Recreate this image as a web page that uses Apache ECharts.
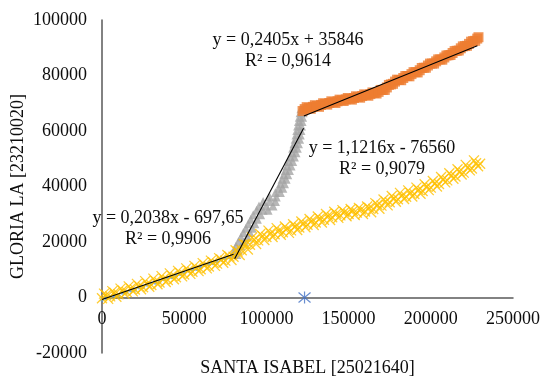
<!DOCTYPE html>
<html>
<head>
<meta charset="utf-8">
<script src="https://cdn.jsdelivr.net/npm/echarts@6/dist/echarts.min.js"></script>
<style>html,body{margin:0;padding:0;background:#fff;}#c{width:542px;height:377px;}</style>
</head>
<body>
<div id="c"></div>
<script>
// ---- data ----
const xTicks = [0, 50000, 100000, 150000, 200000, 250000];
const yTicks = [-20000, 0, 20000, 40000, 60000, 80000, 100000];

const bluePts = [[0,-800],[2500,-300],[5000,100],[7500,600],[10000,800],[12500,1700],[15000,2100],[17500,2500],[20000,2800],[22500,3600],[25000,3800],[27500,4600],[30000,5000],[32500,5300],[35000,5700],[37500,6600],[40000,7000],[42500,7300],[45000,7800],[47500,8500],[50000,8800],[52500,9700],[55000,10000],[57500,10300],[60000,10800],[62500,11700],[65000,12000],[67500,12300],[70000,12900],[72500,13700],[75000,14000],[77500,14400],[80000,15200]];

const greyPts = [[80000,15500],[82000,15500],[80500,17000],[83000,17000],[81500,18600],[84500,18600],[83000,20200],[86500,20200],[84500,21800],[88500,21800],[86000,23400],[90000,23400],[87500,25000],[91500,25000],[89000,26600],[93000,26600],[90500,28200],[94500,28200],[92000,29800],[96500,29800],[94000,31400],[98000,31400],[101000,31400],[95500,33000],[100000,33000],[104000,33000],[98000,34600],[102000,34600],[105500,34600],[102000,36200],[106000,36200],[105500,37800],[108500,37800],[107500,39400],[110000,39400],[108500,41000],[111000,41000],[109500,42600],[112000,42600],[110500,44200],[113000,44200],[111500,45800],[114000,45800],[112500,47400],[115000,47400],[113500,49000],[116000,49000],[114500,50600],[117000,50600],[115500,52200],[118000,52200],[116000,53800],[118800,53800],[116800,55400],[119500,55400],[117500,57000],[120200,57000],[118000,58600],[120600,58600],[118500,60200],[121000,60200],[119000,61800],[121300,61800],[119500,63400],[121700,63400],[120000,65000],[122000,65000],[120500,66600],[122300,66600],[121000,68000],[123000,68000]];

const orangePts = [[122000,67200],[124500,68600],[127000,68000],[129500,69300],[132000,68700],[134500,70000],[137000,69500],[139500,70700],[142000,70100],[144500,71300],[147000,70800],[149500,71900],[152000,71300],[154500,72500],[157000,72000],[159500,73200],[162000,72700],[164500,73900],[167000,73500],[169500,74800],[172000,74800],[174500,76600],[177000,77000],[179500,78500],[182000,78300],[184500,79800],[187000,79700],[189500,81200],[192000,81100],[194500,82700],[197000,82800],[199500,84300],[202000,84300],[204500,85800],[207000,85700],[209500,87200],[212000,87400],[214500,88800],[217000,89000],[219500,90500],[222000,90700],[224500,92200],[227000,92500],[229000,93800]];

const orangePts2 = [[123250,67900],[125750,68300],[128250,68700],[130750,69000],[133250,69400],[135750,69800],[138250,70100],[140750,70400],[143250,70700],[145750,71100],[148250,71400],[150750,71600],[153250,71900],[155750,72300],[158250,72600],[160750,73000],[163250,73300],[165750,73700],[168250,74100],[170750,74800],[173250,75700],[175750,76800],[178250,77800],[180750,78400],[183250,79100],[185750,79800],[188250,80500],[190750,81200],[193250,81900],[195750,82800],[198250,83600],[200750,84300],[203250,85100],[205750,85800],[208250,86500],[210750,87300],[213250,88100],[215750,88900],[218250,89800],[220750,90600],[223250,91400],[225750,92400],[228250,93300]];

const yellowPts = [[0,-300],[2500,900],[5000,400],[7500,1700],[10000,1200],[12500,2500],[15000,2000],[17500,3300],[20000,2900],[22500,4100],[25000,3700],[27500,5000],[30000,4500],[32500,5900],[35000,5400],[37500,6800],[40000,6300],[42500,7800],[45000,7300],[47500,8800],[50000,8300],[52500,9700],[55000,9300],[57500,10700],[60000,10200],[62500,11700],[65000,11200],[67500,12700],[70000,12200],[72500,13700],[75000,13300],[77500,14800],[80000,14700],[82500,16600],[85000,17000],[87500,19000],[90000,19000],[92500,20800],[95000,20600],[97500,22200],[100000,21800],[102500,23200],[105000,22800],[107500,24100],[110000,23500],[112500,24800],[115000,24200],[117500,25700],[120000,25200],[122500,26700],[125000,26200],[127500,27600],[130000,27000],[132500,28500],[135000,28000],[137500,29400],[140000,28900],[142500,30200],[145000,29600],[147500,30800],[150000,30100],[152500,31200],[155000,30600],[157500,31700],[160000,31000],[162500,32300],[165000,31900],[167500,33400],[170000,33100],[172500,34600],[175000,34300],[177500,35800],[180000,35400],[182500,36800],[185000,36300],[187500,37700],[190000,37300],[192500,38800],[195000,38400],[197500,40000],[200000,39600],[202500,41200],[205000,40900],[207500,42600],[210000,42200],[212500,44000],[215000,43600],[217500,45400],[220000,45000],[222500,46900],[225000,46500],[227500,48400],[230000,48200]];

const yellowPts2 = [[1250,1400],[3750,-500],[6250,2300],[8750,300],[11250,3200],[13750,1300],[16250,4000],[18750,2200],[21250,4900],[23750,3000],[26250,5900],[28750,3900],[31250,6800],[33750,4800],[36250,7700],[38750,5600],[41250,8700],[43750,6600],[46250,9600],[48750,7600],[51250,10500],[53750,8500],[56250,11400],[58750,9500],[61250,12400],[63750,10500],[66250,13300],[68750,11400],[71250,14200],[73750,12500],[76250,15300],[78750,13500],[81250,17000],[83750,15300],[86250,19300],[88750,17300],[91250,21600],[93750,19300],[96250,22900],[98750,20700],[101250,24100],[103750,21800],[106250,25000],[108750,22600],[111250,25600],[113750,23300],[116250,26400],[118750,24300],[121250,27400],[123750,25300],[126250,28300],[128750,26100],[131250,29200],[133750,27000],[136250,30100],[138750,27900],[141250,30900],[143750,28700],[146250,31500],[148750,29300],[151250,31900],[153750,29700],[156250,32300],[158750,30100],[161250,32800],[163750,30700],[166250,34000],[168750,32000],[171250,35300],[173750,33200],[176250,36600],[178750,34500],[181250,37700],[183750,35500],[186250,38600],[188750,36400],[191250,39600],[193750,37400],[196250,40800],[198750,38700],[201250,42000],[203750,40000],[206250,43400],[208750,41500],[211250,44800],[213750,42800],[216250,46200],[218750,44300],[221250,47800],[223750,45800],[226250,49400],[228750,47300]];

const asteriskPts = [[123200,0]];

const blueTrend = [[0,-698],[80000,15606]];
const greyTrend = [[80700,13950],[122600,60950]];
const orangeTrend = [[122800,65380],[228300,90750]];

const eqOrange = ['y = 0,2405x + 35846', 'R² = 0,9614'];
const eqGrey = ['y = 1,1216x - 76560', 'R² = 0,9079'];
const eqBlue = ['y = 0,2038x - 697,65', 'R² = 0,9906'];

const xTitle = 'SANTA ISABEL [25021640]';
const yTitle = 'GLORIA LA [23210020]';

// ---- chart ----
const FONT = 'Liberation Serif';
const TXT = '#0d0d0d';
const chart = echarts.init(document.getElementById('c'), null, {renderer: 'canvas'});

function trend(d) {
  return {type: 'line', data: d, symbol: 'none', silent: true, z: 10,
    lineStyle: {color: '#000', width: 1.1}};
}
function eqText(lines, cx, cy) {
  return lines.map((t, i) => ({
    type: 'text', x: cx, y: cy + i * 20.5, z: 100,
    style: {text: t, fill: TXT, font: '18px "' + FONT + '"', textAlign: 'center', textVerticalAlign: 'middle'}
  }));
}
const plain = v => String(v);
const crossSym = 'path://M0,0L10,10M10,0L0,10';
const yellowStyle = {color: 'rgba(0,0,0,0)', borderColor: '#FFC000', borderWidth: 1.3};

chart.setOption({
  animation: false,
  grid: {left: 102, right: 29, top: 20, bottom: 24, containLabel: false, outerBoundsMode: 'none'},
  xAxis: {
    type: 'value', min: xTicks[0], max: xTicks[xTicks.length - 1], interval: 50000,
    axisLine: {onZero: true, lineStyle: {color: '#595959', width: 1.5}},
    axisTick: {show: false}, splitLine: {show: false},
    axisLabel: {color: TXT, fontFamily: FONT, fontSize: 18, margin: -43, formatter: plain},
    name: xTitle, nameLocation: 'middle', nameGap: 6, nameMoveOverlap: false,
    nameTextStyle: {color: TXT, fontFamily: FONT, fontSize: 18}
  },
  yAxis: {
    type: 'value', min: yTicks[0], max: yTicks[yTicks.length - 1], interval: 20000,
    axisLine: {show: true, onZero: false, lineStyle: {color: '#595959', width: 1.5}},
    axisTick: {show: false}, splitLine: {show: false},
    axisLabel: {color: TXT, fontFamily: FONT, fontSize: 18, margin: 15, formatter: plain},
    name: yTitle, nameLocation: 'middle', nameGap: 75, nameRotate: 90, nameMoveOverlap: false,
    nameTextStyle: {color: TXT, fontFamily: FONT, fontSize: 18}
  },
  series: [
    {type: 'scatter', data: bluePts, symbol: 'circle', symbolSize: 4,
      itemStyle: {color: '#5B9BD5'}, z: 2},
    {type: 'scatter', data: greyPts, symbol: 'triangle', symbolSize: 9,
      itemStyle: {color: '#A5A5A5'}, z: 3},
    {type: 'scatter', data: yellowPts, symbol: crossSym, symbolSize: 10, itemStyle: yellowStyle, z: 4},
    {type: 'scatter', data: yellowPts2, symbol: crossSym, symbolSize: 10, itemStyle: yellowStyle, z: 4},
    {type: 'scatter', data: orangePts, symbol: 'rect', symbolSize: 10,
      itemStyle: {color: '#ED7D31'}, z: 5},
    {type: 'scatter', data: orangePts2, symbol: 'rect', symbolSize: 10,
      itemStyle: {color: '#ED7D31'}, z: 5},
    {type: 'scatter', data: asteriskPts, symbol: 'path://M5,0L5,10M0.8,0.8L9.2,9.2M9.2,0.8L0.8,9.2', symbolSize: 12,
      itemStyle: {color: 'rgba(0,0,0,0)', borderColor: '#4472C4', borderWidth: 1.2}, z: 6},
    trend(blueTrend), trend(greyTrend), trend(orangeTrend)
  ],
  graphic: [].concat(eqText(eqOrange, 288, 40.5), eqText(eqGrey, 382, 148.5), eqText(eqBlue, 168, 218.5))
});
</script>
</body>
</html>
